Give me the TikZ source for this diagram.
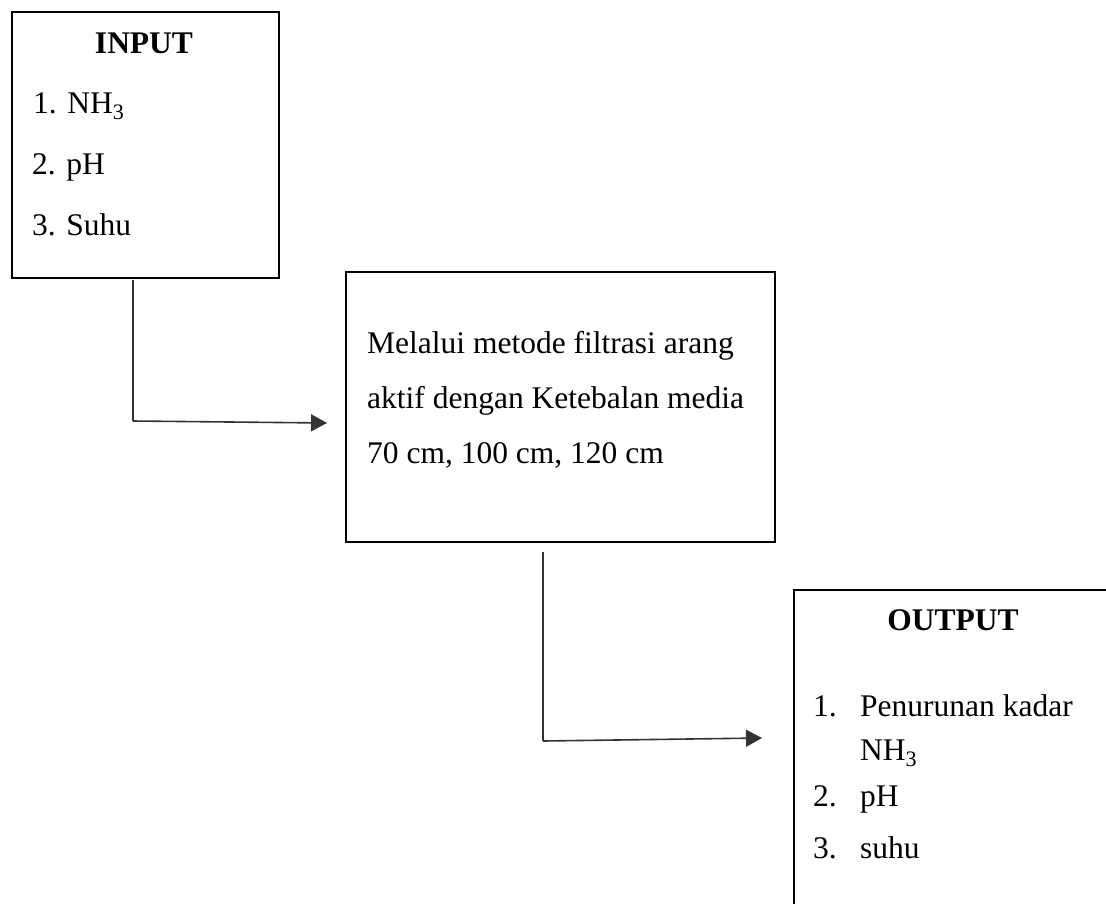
\documentclass[tikz,border=0pt]{standalone}
\usepackage{fontspec}
\setmainfont{Liberation Serif}
\usetikzlibrary{arrows.meta}
\begin{document}
\begin{tikzpicture}[x=1pt,y=-1pt,
  box/.style={draw, line width=2.8pt, inner sep=0pt, anchor=north west},
  txt/.style={inner sep=0pt, anchor=base west, font=\fontsize{31.5}{36}\selectfont},
  ttl/.style={inner sep=0pt, anchor=base, font=\fontsize{31.5}{36}\selectfont\bfseries},
  link/.style={line width=1.6pt, draw=black!80, line join=miter},
  conn/.style={link, -{Triangle[length=16pt,width=17pt]}},
]
\useasboundingbox (0,0) rectangle (1106,903);
\fill[white] (0,0) rectangle (1106,903);
\clip (0,0) rectangle (1106,903);
% boxes
\node[box, minimum width=267pt, minimum height=266pt] (in) at (10.5,10.5) {};
\node[box, minimum width=429pt, minimum height=270pt] (proc) at (344.5,270.5) {};
\node[box, minimum width=400pt, minimum height=400pt] (out) at (792.5,588.5) {};
% input text
\node[ttl] (inT) at (144,53) {INPUT};
\node[txt] (in1) at (33,113) {1. NH\textsubscript{3}};
\node[txt] (in2) at (32,174) {2. pH};
\node[txt] (in3) at (32,235) {3. Suhu};
% process text
\node[txt] (p1) at (367,353) {Melalui metode filtrasi arang};
\node[txt] (p2) at (367,408) {aktif dengan Ketebalan media};
\node[txt] (p3) at (367,463) {70 cm, 100 cm, 120 cm};
% output text
\node[ttl] (outT) at (953,630) {OUTPUT};
\node[txt] (o1n) at (813,716) {1.};
\node[txt] (o1) at (860,716) {Penurunan kadar};
\node[txt] (o1b) at (860,760) {NH\textsubscript{3}};
\node[txt] (o2n) at (813,806) {2.};
\node[txt] (o2) at (860,806) {pH};
\node[txt] (o3n) at (813,858) {3.};
\node[txt] (o3) at (860,858) {suhu};
% connectors
\coordinate (a1s) at (133,280);
\coordinate (a1k) at (133,421);
\coordinate (a1e) at (327,423);
\draw[link] (a1s) -- (a1k);
\draw[conn] (a1k) -- (a1e);
\coordinate (a2s) at (543,552);
\coordinate (a2k) at (543,741);
\coordinate (a2e) at (762,738);
\draw[link] (a2s) -- (a2k);
\draw[conn] (a2k) -- (a2e);
\end{tikzpicture}
\end{document}
